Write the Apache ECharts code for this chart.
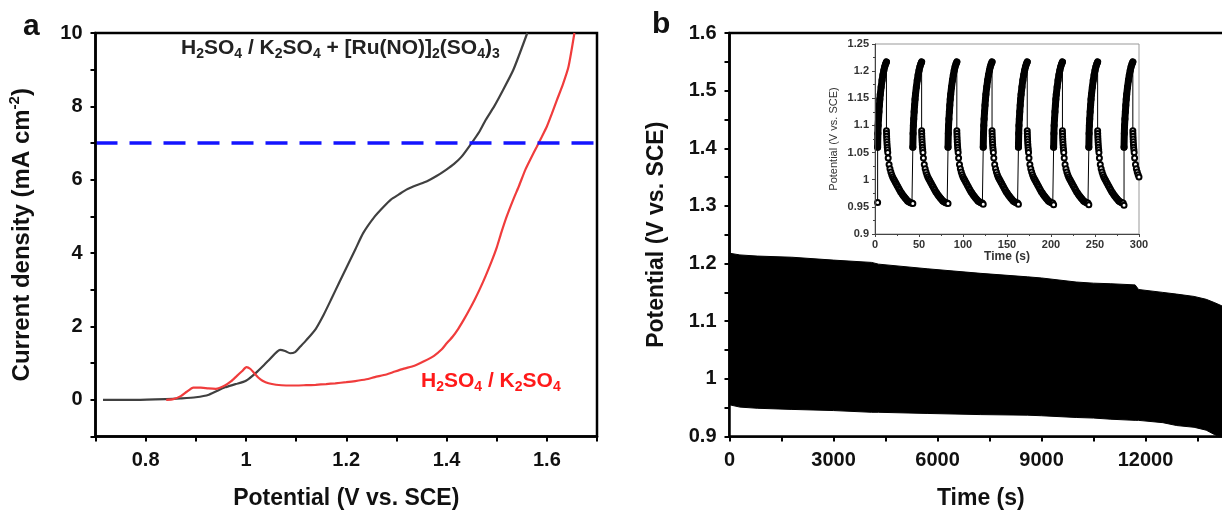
<!DOCTYPE html>
<html><head><meta charset="utf-8">
<script src="https://cdn.jsdelivr.net/npm/echarts@6/dist/echarts.min.js"></script>
<style>html,body{margin:0;padding:0;background:#fff}#c{width:1222px;height:514px}</style>
</head><body><div id="c"></div>
<script>
// ---------- Panel a: LSV curves ----------
const ruPotential = [0.715, 0.78, 0.84, 0.87, 0.90, 0.926, 0.958, 0.98, 1.0, 1.021, 1.045, 1.068, 1.078, 1.088, 1.098, 1.107, 1.12, 1.139, 1.155, 1.17, 1.186, 1.202, 1.218, 1.234, 1.257, 1.275, 1.289, 1.305, 1.32, 1.34, 1.36, 1.38, 1.399, 1.415, 1.43, 1.45, 1.465, 1.478, 1.495, 1.509, 1.533, 1.561];
const ruCurrent   = [0.0, 0.0, 0.02, 0.04, 0.07, 0.14, 0.34, 0.43, 0.52, 0.75, 1.07, 1.36, 1.33, 1.27, 1.30, 1.43, 1.62, 1.93, 2.32, 2.74, 3.2, 3.65, 4.1, 4.55, 5.0, 5.27, 5.46, 5.6, 5.73, 5.85, 5.95, 6.1, 6.27, 6.43, 6.63, 7.0, 7.3, 7.63, 8.0, 8.35, 8.99, 10.0];
const blankPotential = [0.841, 0.855, 0.87, 0.882, 0.895, 0.91, 0.925, 0.94, 0.958, 0.97, 0.981, 0.992, 1.001, 1.009, 1.017, 1.025, 1.033, 1.045, 1.06, 1.08, 1.1, 1.12, 1.139, 1.16, 1.178, 1.2, 1.218, 1.24, 1.257, 1.28, 1.297, 1.315, 1.336, 1.355, 1.375, 1.39, 1.399, 1.412, 1.423, 1.435, 1.446, 1.456, 1.466, 1.478, 1.49, 1.5, 1.509, 1.52, 1.533, 1.545, 1.557, 1.568, 1.58, 1.59, 1.6, 1.61, 1.62, 1.632, 1.643, 1.655];
const blankCurrent   = [0.0, 0.02, 0.1, 0.22, 0.33, 0.33, 0.31, 0.30, 0.39, 0.5, 0.64, 0.78, 0.89, 0.84, 0.72, 0.6, 0.52, 0.45, 0.41, 0.39, 0.39, 0.40, 0.41, 0.43, 0.45, 0.48, 0.51, 0.56, 0.62, 0.69, 0.77, 0.85, 0.93, 1.05, 1.2, 1.37, 1.52, 1.72, 1.93, 2.2, 2.47, 2.73, 3.01, 3.38, 3.78, 4.15, 4.55, 5.0, 5.46, 5.85, 6.27, 6.58, 6.9, 7.17, 7.45, 7.8, 8.17, 8.6, 9.07, 10.0];
const refCurrent = 7;

// ---------- Panel b: long-term cycling envelope ----------
const envTime  = [0, 300, 800, 1800, 3000, 4100, 4300, 5700, 7250, 8600, 9000, 10000, 10500, 11000, 11700, 11800, 12500, 12900, 13400, 13750, 14000, 14300];
const envUpper = [1.218, 1.215, 1.213, 1.211, 1.206, 1.202, 1.199, 1.191, 1.183, 1.177, 1.175, 1.168, 1.166, 1.165, 1.163, 1.155, 1.150, 1.147, 1.143, 1.138, 1.132, 1.124];
const envLower = [0.955, 0.951, 0.949, 0.947, 0.945, 0.942, 0.942, 0.940, 0.938, 0.937, 0.936, 0.933, 0.932, 0.930, 0.928, 0.928, 0.924, 0.919, 0.916, 0.911, 0.903, 0.896];

// ---------- Inset: first 300 s ----------
const cycleStart  = [3, 43, 83, 123, 163, 203, 243, 283];
const troughValue = [0.958, 0.956, 0.956, 0.955, 0.955, 0.954, 0.954, 0.953];
const chargeOffset = [0, 0.3, 0.6, 1, 1.5, 2, 2.5, 3, 4, 5, 6, 7, 8, 9, 10];
const chargeValue  = [1.06, 1.085, 1.1, 1.112, 1.125, 1.137, 1.148, 1.157, 1.171, 1.183, 1.193, 1.201, 1.208, 1.213, 1.217];
const dischargeOffset = [10, 10.1, 10.2, 10.35, 10.5, 10.7, 10.9, 11.2, 11.5, 12, 13, 14, 15, 16, 17, 18, 19, 20, 21, 22, 23, 24, 25, 26, 27, 28, 29, 30, 31, 32, 33, 34, 35, 36, 37, 38, 39];
const dischargeValue  = [1.09, 1.085, 1.08, 1.075, 1.07, 1.065, 1.06, 1.055, 1.05, 1.04, 1.028, 1.02, 1.014, 1.009, 1.005, 1.002, 0.999, 0.996, 0.993, 0.99, 0.987, 0.984, 0.981, 0.978, 0.976, 0.973, 0.971, 0.969, 0.967, 0.965, 0.963, 0.961, 0.96, 0.959, 0.958, 0.957, 0.957];

// ---------- build ----------
const FONT = '"Liberation Sans", Arial, sans-serif';
const ruData = ruPotential.map((v, i) => [v, ruCurrent[i]]);
const blankData = blankPotential.map((v, i) => [v, blankCurrent[i]]);
const bandUpper = envTime.map((t, i) => [t, envUpper[i]]);
const bandLower = envTime.map((t, i) => [t, envLower[i]]);

const insetTrace = [];
const insetCharge = [];
cycleStart.forEach((T, k) => {
  insetTrace.push([T, troughValue[k]]);
  chargeOffset.forEach((o, j) => { insetTrace.push([T + o, chargeValue[j]]); insetCharge.push([T + o, chargeValue[j]]); });
  insetCharge.push('-');
  dischargeOffset.forEach((o, j) => insetTrace.push([T + o, dischargeValue[j]]));
});

const mainLabel = { fontSize: 20, fontWeight: 'bold', color: '#111', fontFamily: FONT };
const mainName = { fontSize: 23, fontWeight: 'bold', color: '#111', fontFamily: FONT };
const frameLine = { show: true, onZero: false, lineStyle: { color: '#000', width: 2.5 } };
const mainTick = { show: true, length: 5, lineStyle: { color: '#000', width: 2 } };
const TIME_MAX = 14500;

const option = {
  animation: false,
  textStyle: { fontFamily: FONT },
  grid: [
    { left: 95.5, top: 33, width: 501.5, height: 403.5, show: true, borderColor: '#000', borderWidth: 2.5, backgroundColor: 'transparent', outerBoundsMode: 'none', containLabel: false },
    { left: 729.5, top: 33, width: 502.7, height: 403.5, show: true, borderColor: '#000', borderWidth: 2.5, backgroundColor: 'transparent', outerBoundsMode: 'none', containLabel: false },
    { left: 875, top: 44, width: 264, height: 190, show: true, borderColor: '#999', borderWidth: 1, backgroundColor: 'transparent', outerBoundsMode: 'none', containLabel: false }
  ],
  xAxis: [
    { gridIndex: 0, type: 'value', min: 0.7, max: 1.7, interval: 0.1, z: 5,
      axisLine: frameLine, axisTick: mainTick, splitLine: { show: false },
      axisLabel: Object.assign({ margin: 14, formatter: v => (Math.round(v * 10) % 2 === 0 ? String(Number(v.toFixed(1))) : '') }, mainLabel),
      name: 'Potential (V vs. SCE)', nameLocation: 'middle', nameGap: 51, nameTextStyle: mainName },
    { gridIndex: 1, type: 'value', min: 0, max: TIME_MAX, interval: 1500, z: 5,
      axisLine: frameLine, axisTick: mainTick, splitLine: { show: false },
      axisLabel: Object.assign({ margin: 14, formatter: v => (v % 3000 === 0 ? String(v) : '') }, mainLabel),
      name: 'Time (s)', nameLocation: 'middle', nameGap: 51, nameTextStyle: mainName },
    { gridIndex: 2, type: 'value', min: 0, max: 300, interval: 50, z: 5,
      axisLine: { show: true, onZero: false, lineStyle: { color: '#444', width: 1 } },
      axisTick: { show: true, length: 3, lineStyle: { color: '#444' } },
      minorTick: { show: true, splitNumber: 2, length: 2, lineStyle: { color: '#444' } },
      splitLine: { show: false },
      axisLabel: { margin: 5, fontSize: 11, fontWeight: 'bold', color: '#333', fontFamily: FONT },
      name: 'Time (s)', nameLocation: 'middle', nameGap: 16, nameTextStyle: { fontSize: 12, fontWeight: 'bold', color: '#333', fontFamily: FONT } }
  ],
  yAxis: [
    { gridIndex: 0, type: 'value', min: -1, max: 10, interval: 1, z: 5,
      axisLine: frameLine, axisTick: mainTick, splitLine: { show: false },
      axisLabel: Object.assign({ margin: 13, formatter: v => (v >= 0 && v % 2 === 0 ? String(v) : '') }, mainLabel),
      name: 'Current density (mA cm{sup|-2})', nameLocation: 'middle', nameGap: 58,
      nameTextStyle: { fontSize: 24, lineHeight: 30, fontWeight: 'bold', color: '#111', fontFamily: FONT,
        rich: { sup: { fontSize: 15, fontWeight: 'bold', color: '#111', verticalAlign: 'top', lineHeight: 30, fontFamily: FONT } } } },
    { gridIndex: 1, type: 'value', min: 0.9, max: 1.6, interval: 0.05, z: 5,
      axisLine: frameLine, axisTick: mainTick, splitLine: { show: false },
      axisLabel: Object.assign({ margin: 13, formatter: v => { const r = Math.round(v * 100); return r % 10 === 0 ? String(r / 100) : ''; } }, mainLabel),
      name: 'Potential (V vs. SCE)', nameLocation: 'middle', nameGap: 61, nameTextStyle: mainName },
    { gridIndex: 2, type: 'value', min: 0.9, max: 1.25, interval: 0.05, z: 5,
      axisLine: { show: true, onZero: false, lineStyle: { color: '#444', width: 1 } },
      axisTick: { show: true, length: 3, lineStyle: { color: '#444' } },
      minorTick: { show: true, splitNumber: 2, length: 2, lineStyle: { color: '#444' } },
      splitLine: { show: false },
      axisLabel: { margin: 6, fontSize: 11, fontWeight: 'bold', color: '#333', fontFamily: FONT, formatter: v => String(Number(v.toFixed(2))) },
      name: 'Potential (V vs. SCE)', nameLocation: 'middle', nameGap: 36, nameTextStyle: { fontSize: 11, color: '#333', fontFamily: FONT } }
  ],
  series: [
    { type: 'line', xAxisIndex: 0, yAxisIndex: 0, data: ruData, showSymbol: false, smooth: 0.2, z: 3,
      lineStyle: { color: '#404040', width: 2.2 },
      markLine: { silent: true, symbol: 'none', label: { show: false },
        lineStyle: { color: '#1414ff', width: 3.5, type: [22, 12] }, data: [{ yAxis: refCurrent }] } },
    { type: 'line', xAxisIndex: 0, yAxisIndex: 0, data: blankData, showSymbol: false, smooth: 0.2, z: 3,
      lineStyle: { color: '#f03c3c', width: 2.2 } },
    { type: 'line', xAxisIndex: 1, yAxisIndex: 1, data: bandUpper, showSymbol: false, z: 2,
      lineStyle: { color: '#000', width: 1 }, areaStyle: { color: '#000', opacity: 1, origin: 'start' } },
    { type: 'line', xAxisIndex: 1, yAxisIndex: 1, data: bandLower, showSymbol: false, z: 2.5,
      lineStyle: { color: '#000', width: 1 }, areaStyle: { color: '#fff', opacity: 1, origin: 'start' } },
    { type: 'line', xAxisIndex: 2, yAxisIndex: 2, data: insetTrace, z: 3,
      showSymbol: true, showAllSymbol: true, symbol: 'emptyCircle', symbolSize: 5,
      itemStyle: { color: '#000', borderColor: '#000', borderWidth: 0.8 },
      lineStyle: { color: '#000', width: 1 } },
    { type: 'line', xAxisIndex: 2, yAxisIndex: 2, data: insetCharge, z: 4, connectNulls: false,
      showSymbol: false, lineStyle: { color: '#000', width: 7, cap: 'round' } }
  ],
  graphic: [
    { type: 'text', left: 23, top: 12, style: { text: 'a', font: 'bold 30px ' + FONT, fill: '#111' } },
    { type: 'text', left: 652, top: 9.5, style: { text: 'b', font: 'bold 30px ' + FONT, fill: '#111' } },
    { type: 'text', left: 181, top: 38, style: {
        text: '{n|H}{s|2}{n|SO}{s|4}{n| / K}{s|2}{n|SO}{s|4}{n| + [Ru(NO)]}{s|2}{n|(SO}{s|4}{n|)}{s|3}',
        rich: {
          n: { fontSize: 21, fontWeight: 'bold', fill: '#222', fontFamily: FONT, lineHeight: 26, verticalAlign: 'middle' },
          s: { fontSize: 14, fontWeight: 'bold', fill: '#222', fontFamily: FONT, lineHeight: 26, verticalAlign: 'bottom' }
        } } },
    { type: 'text', left: 421, top: 371, style: {
        text: '{n|H}{s|2}{n|SO}{s|4}{n| / K}{s|2}{n|SO}{s|4}',
        rich: {
          n: { fontSize: 21, fontWeight: 'bold', fill: '#ff1a1a', fontFamily: FONT, lineHeight: 26, verticalAlign: 'middle' },
          s: { fontSize: 14, fontWeight: 'bold', fill: '#ff1a1a', fontFamily: FONT, lineHeight: 26, verticalAlign: 'bottom' }
        } } }
  ]
};
const chart = echarts.init(document.getElementById('c'), null, { renderer: 'canvas' });
chart.setOption(option);
</script>
</body></html>
